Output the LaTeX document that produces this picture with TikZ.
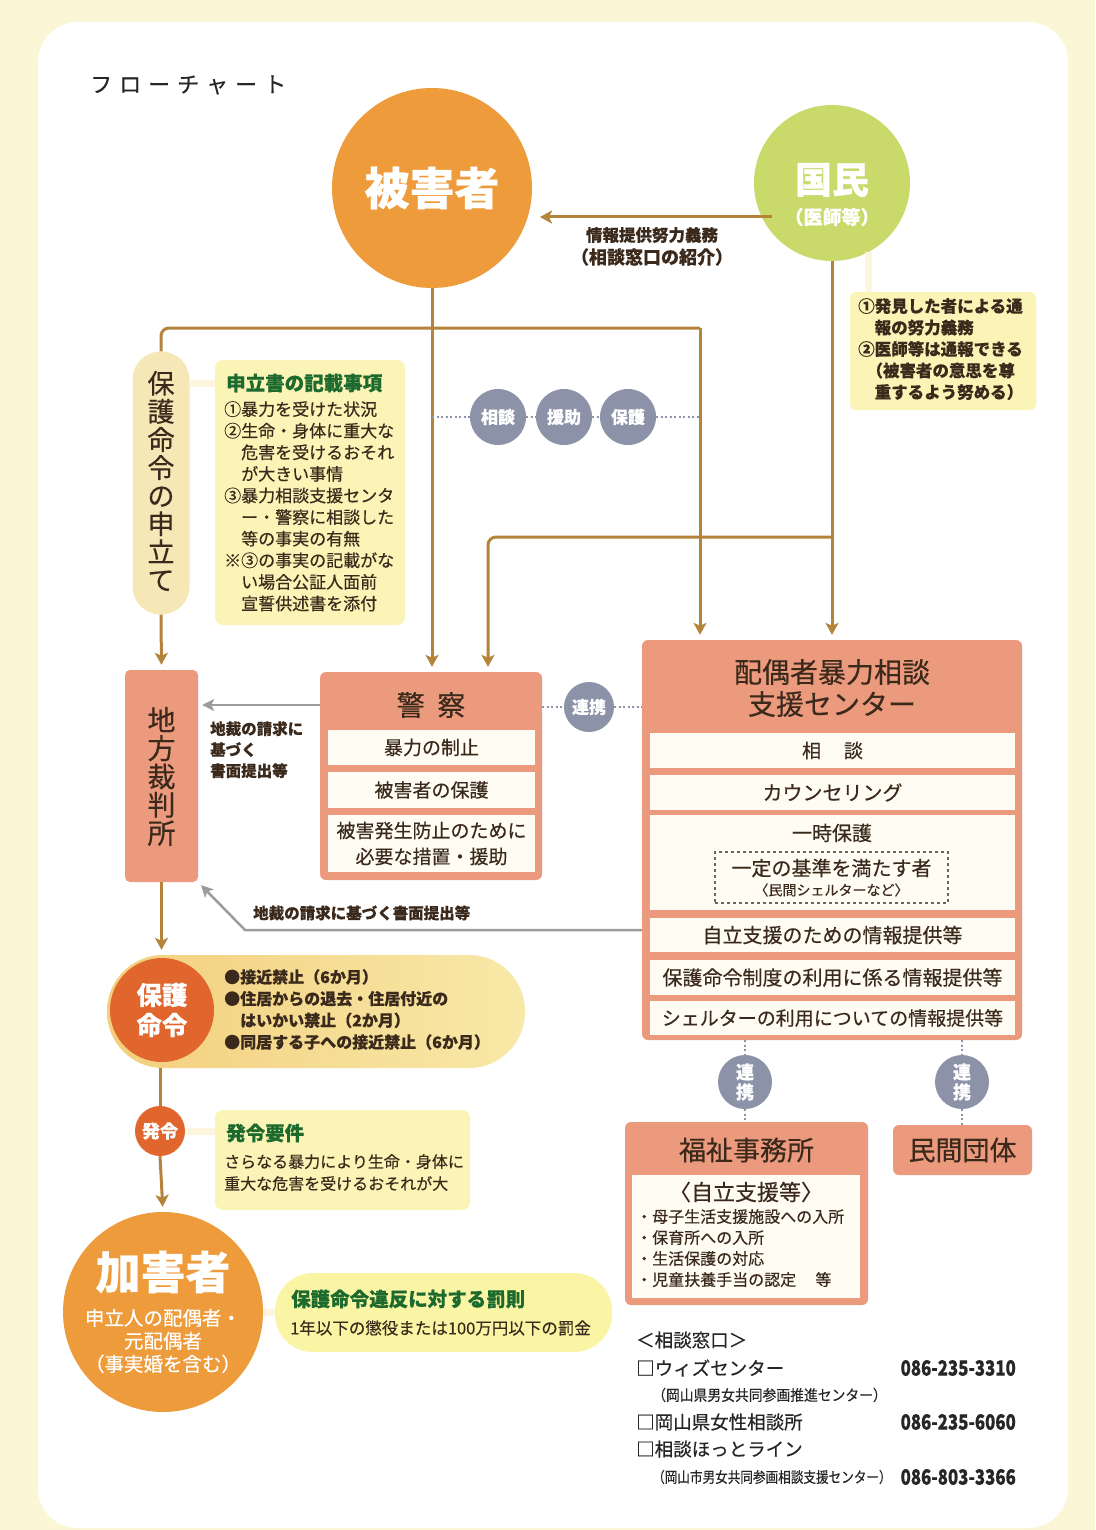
\documentclass[tikz,border=0pt]{standalone}
\usepackage{fontspec}
\usepackage{graphicx}
\setmainfont{Noto Sans CJK JP}[FakeBold=0.4]
\usetikzlibrary{arrows.meta,calc}
\definecolor{bgy}{HTML}{FBF7D6}
\definecolor{lnb}{HTML}{B5843A}
\definecolor{salm}{HTML}{EC9A7D}
\definecolor{roww}{HTML}{FFFCF3}
\definecolor{orng}{HTML}{EE9B3C}
\definecolor{redo}{HTML}{E0662D}
\definecolor{kgreen}{HTML}{C9DA6B}
\definecolor{paley}{HTML}{FAF4B6}
\definecolor{tanp}{HTML}{F6E8B6}
\definecolor{cgray}{HTML}{8C92A7}
\definecolor{dgreen}{HTML}{1D6A2E}
\definecolor{tdark}{HTML}{3B2A1C}
\definecolor{agray}{HTML}{9C9C9C}
\definecolor{hogoL}{HTML}{F3CF7E}
\definecolor{hogoR}{HTML}{F8E9A8}
\newcommand\fsz[2]{\fontsize{#1pt}{#2pt}\selectfont}
\tikzset{
 txt/.style={inner sep=0pt, text=tdark},
 brl/.style={draw=lnb, line width=3pt},
 barr/.style={brl, shorten >=5pt, -{Stealth[width=13pt,length=12pt,inset=3pt]}},
 garr/.style={draw=agray, line width=2.5pt, shorten >=4pt, -{Stealth[width=12pt,length=12pt,inset=3pt]}},
 dotl/.style={draw=cgray, line width=2pt, dash pattern=on 2pt off 2.5pt},
 pale/.style={draw=paley!80!orange!30, line width=7pt},
 sbox/.style={fill=salm, rounded corners=6pt, inner sep=0pt},
 rowbox/.style={fill=roww, inner sep=0pt, text=tdark},
 gcirc/.style={circle, fill=cgray, minimum size=54pt, inner sep=0pt, text=white},
 green/.style={inner sep=0pt, text=dgreen, font=\fsz{19.5}{22}\bfseries},
}
\begin{document}
\begin{tikzpicture}[x=1pt,y=-1pt]
\useasboundingbox (0,0) rectangle (1095,1530);
\fill[bgy] (0,0) rectangle (1095,1530);
\fill[white, rounded corners=40pt] (38,22) rectangle (1068,1528);

% title
\node[txt, anchor=west, text=black!85, font=\fsz{22}{24}] (title) at (90,85) {フ\hspace{7pt}ロ\hspace{7pt}ー\hspace{7pt}チ\hspace{7pt}ャ\hspace{7pt}ー\hspace{7pt}ト};

% victim
\node[circle, fill=orng, minimum size=200pt, inner sep=0pt, text=white, font=\fsz{45}{48}\bfseries] (victim) at (432,188) {被害者};
% kokumin
\node[circle, fill=kgreen, minimum size=156pt, inner sep=0pt] (kokumin) at (832,183) {};
\node[inner sep=0pt, text=white, font=\fsz{37}{40}\bfseries] (kokuminT) at (832,180) {国民};
\node[inner sep=0pt, text=white, font=\fsz{19}{22}\bfseries] (kokuminS) at (832,217) {（医師等）};
\coordinate (infoStart) at (772,217);
\coordinate (infoEnd) at (540,217);
\draw[barr, shorten >=0pt] (infoStart) -- (infoEnd);
\node[txt, font=\fsz{16.5}{18}\bfseries] (infoL1) at (652,235) {情報提供努力義務};
\node[txt, font=\fsz{18}{20}\bfseries] (infoL2) at (652,257) {（相談窓口の紹介）};

% note box
\node[fill=paley, rounded corners=6pt, minimum width=186pt, minimum height=118pt, inner sep=0pt] (note) at (943,351) {};
\draw[pale] (kokumin.-62) -- (kokumin.-62 |- note.north);
\node[txt, anchor=north west, align=left, font=\fsz{16.5}{21.5}\bfseries] (noteT) at (858,298) {①発見した者による通\\\hspace{1em}報の努力義務\\②医師等は通報できる\\\hspace{0.5em}（被害者の意思を尊\\\hspace{1em}重するよう努める）};

% hogo meirei moushitate pill
\node[fill=tanp, rounded corners=28pt, minimum width=57pt, minimum height=263pt, inner sep=0pt] (moushitate) at (161,483) {};
\node[txt, align=center, text=tdark, font=\fsz{27}{28.1}] (moushitateT) at (161,481) {保\\護\\命\\令\\の\\申\\立\\て};
% kisai box
\node[fill=paley, rounded corners=8pt, minimum width=190pt, minimum height=265pt, inner sep=0pt] (kisai) at (310,492.5) {};
\node[green, anchor=west] (kisaiH) at (226,383) {申立書の記載事項};
\draw[pale] (moushitate.east |- kisaiH) -- (kisai.west |- kisaiH);
\node[txt, anchor=north west, align=left, font=\fsz{17}{21.6}] (kisaiT) at (224,401) {①暴力を受けた状況\\②生命・身体に重大な\\\hspace{1em}危害を受けるおそれ\\\hspace{1em}が大きい事情\\③暴力相談支援センタ\\\hspace{1em}ー・警察に相談した\\\hspace{1em}等の事実の有無\\※③の事実の記載がな\\\hspace{1em}い場合公証人面前\\\hspace{1em}宣誓供述書を添付};

% chisai
\node[sbox, rounded corners=5pt, minimum width=73pt, minimum height=212pt] (chisai) at (161.5,776) {};
\node[txt, align=center, font=\fsz{28}{28.3}] (chisaiT) at (161.5,776.5) {地\\方\\裁\\判\\所};

% police
\node[sbox, minimum width=222pt, minimum height=208pt] (police) at (431,776) {};
\node[txt, font=\fsz{28}{30}] (pHead) at (431,705) {警\hspace{0.45em}察};
\node[rowbox, minimum width=207pt, minimum height=35pt, font=\fsz{19}{22}] (p1) at (431.5,747.5) {暴力の制止};
\node[rowbox, minimum width=207pt, minimum height=36pt, font=\fsz{19}{22}] (p2) at (431.5,790) {被害者の保護};
\node[rowbox, minimum width=207pt, minimum height=57pt, align=center, font=\fsz{19}{26}] (p3) at (431.5,843.5) {被害発生防止のために\\必要な措置・援助};

% center
\node[sbox, minimum width=380pt, minimum height=400pt] (center) at (832,840) {};
\node[txt, align=center, font=\fsz{28}{32}] (cHead) at (832,688) {配偶者暴力相談\\支援センター};
\node[rowbox, minimum width=365pt, minimum height=35pt, font=\fsz{19}{22}] (c1) at (832.5,750.5) {相\hspace{1.2em}談};
\node[rowbox, minimum width=365pt, minimum height=35pt, font=\fsz{20}{22}] (c2) at (832.5,792.5) {カウンセリング};
\node[rowbox, minimum width=365pt, minimum height=95pt] (c3) at (832.5,862.5) {};
\node[txt, font=\fsz{20}{22}] (c3T) at (832,833) {一時保護};
\node[draw=black!60, dashed, line width=1.2pt, fill=roww, minimum width=233pt, minimum height=51pt, inner sep=0pt] (cDash) at (831.5,877.5) {};
\node[txt, font=\fsz{20}{22}] (cDash1) at (831.5,868) {一定の基準を満たす者};
\node[txt, font=\fsz{14}{16}] (cDash2) at (831.5,890) {〈民間シェルターなど〉};
\node[rowbox, minimum width=365pt, minimum height=34pt, font=\fsz{20}{22}] (c4) at (832.5,935) {自立支援のための情報提供等};
\node[rowbox, minimum width=365pt, minimum height=35pt, font=\fsz{20}{22}] (c5) at (832.5,977.5) {保護命令制度の利用に係る情報提供等};
\node[rowbox, minimum width=365pt, minimum height=34pt, font=\fsz{19}{22}] (c6) at (832.5,1018) {シェルターの利用についての情報提供等};

% dotted sodan circles
\node[gcirc, minimum size=56pt, font=\fsz{17}{19}\bfseries] (s1) at (498,417) {相談};
\node[gcirc, minimum size=56pt, font=\fsz{17}{19}\bfseries] (s2) at (564,417) {援助};
\node[gcirc, minimum size=56pt, font=\fsz{17}{19}\bfseries] (s3) at (628,417) {保護};

% main brown lines
\coordinate (jR) at (700,328);
\coordinate (br) at (832,537);
\coordinate (brL) at (488,537);
\draw[brl, rounded corners=8pt] (moushitate.north) |- (jR);
\draw[barr, rounded corners=8pt] (jR) -- (jR |- center.north);
\draw[barr] (victim.south) -- (victim.south |- police.north);
\draw[barr] (kokumin.south) -- (kokumin.south |- center.north);
\draw[barr, rounded corners=8pt] (br) -- (brL) -- (brL |- police.north);
\draw[dotl] (victim.south |- s1) -- (s1.west);
\draw[dotl] (s1.east) -- (s2.west);
\draw[dotl] (s2.east) -- (s3.west);
\draw[dotl] (s3.east) -- (jR |- s3);
\draw[barr] (moushitate.south) -- (chisai.north);

% renkei police-center
\node[gcirc, minimum size=50pt, font=\fsz{17}{19}\bfseries] (r1) at (589,707) {連携};
\draw[dotl] (police.east |- r1) -- (r1.west);
\draw[dotl] (r1.east) -- (center.west |- r1);

% gray arrows
\draw[garr] (police.west |- pHead) -- (chisai.east |- pHead);
\node[txt, anchor=north west, align=left, font=\fsz{15.5}{21}\bfseries] (gl1) at (210,721) {地裁の請求に\\基づく\\書面提出等};
\coordinate (gbend) at (245,930);
\draw[garr] (center.west |- gbend) -- (gbend) -- (chisai.south east);
\node[txt, anchor=west, font=\fsz{15.5}{18}\bfseries] (gl2) at (253,913) {地裁の請求に基づく書面提出等};

% hogo meirei
\node[left color=hogoL, right color=hogoR, rounded corners=56pt, minimum width=418pt, minimum height=113pt, inner sep=0pt] (hogo) at (316,1011.5) {};
\node[circle, fill=redo, minimum size=104pt, inner sep=0pt, align=center, text=white, font=\fsz{25.5}{30}\bfseries] (hogoC) at (162,1010) {保護\\命令};
\node[txt, anchor=north west, align=left, font=\fsz{16}{21.7}\bfseries] (hogoT) at (224,969) {●接近禁止（6か月）\\●住居からの退去・住居付近の\\\hspace{1em}はいかい禁止（2か月）\\●同居する子への接近禁止（6か月）};
\draw[barr] (chisai.south) -- (chisai.south |- hogo.north);

% hatsurei
\node[circle, fill=redo, minimum size=50pt, inner sep=0pt, text=white, font=\fsz{18}{20}\bfseries] (hatsurei) at (160,1131) {発令};
\draw[brl] (hatsurei.north |- hogo.south) -- (hatsurei.north);
\node[fill=paley, rounded corners=8pt, minimum width=255pt, minimum height=100pt, inner sep=0pt] (youken) at (342.5,1160) {};
\draw[pale] (hatsurei.east) -- (youken.west |- hatsurei);
\node[green, anchor=west] (youkenH) at (226,1133) {発令要件};
\node[txt, anchor=north west, align=left, font=\fsz{16}{22}] (youkenT) at (224,1154) {さらなる暴力により生命・身体に\\重大な危害を受けるおそれが大};

% kagai
\node[circle, fill=orng, minimum size=200pt, inner sep=0pt] (kagai) at (163,1312) {};
\node[inner sep=0pt, text=white, font=\fsz{45}{48}\bfseries] (kagaiT) at (163,1272) {加害者};
\node[inner sep=0pt, text=white, align=center, font=\fsz{19.5}{23}] (kagaiS) at (163,1341) {申立人の配偶者・\\元配偶者\\（事実婚を含む）};
\draw[barr] (hatsurei.south) -- (kagai.north);

% batsu
\node[fill=paley!90!yellow, rounded corners=38pt, minimum width=337pt, minimum height=79pt, inner sep=0pt] (batsu) at (443.5,1312.5) {};
\draw[pale] (kagai.east) -- (batsu.west);
\node[green, anchor=west] (batsuH) at (291,1299) {保護命令違反に対する罰則};
\node[txt, anchor=west, font=\fsz{16.5}{18}] (batsuT) at (290,1328) {1年以下の懲役または100万円以下の罰金};

% fukushi / minkan
\node[sbox, minimum width=243pt, minimum height=183pt] (fukushi) at (746.5,1213.5) {};
\node[txt, font=\fsz{27}{30}] (fukushiH) at (746.5,1150) {福祉事務所};
\node[rowbox, minimum width=228pt, minimum height=123pt] (fukushiIn) at (746,1236.5) {};
\node[txt, font=\fsz{22}{24}] (fukushiS) at (746,1192) {〈自立支援等〉};
\node[txt, anchor=north west, align=left, font=\fsz{16}{21}] (fukushiT) at (636,1209) {・母子生活支援施設への入所\\・保育所への入所\\・生活保護の対応\\・児童扶養手当の認定\hspace{1.2em}等};
\node[sbox, minimum width=139pt, minimum height=50pt, font=\fsz{27}{30}, text=tdark] (minkan) at (962.5,1150) {民間団体};

\node[gcirc, minimum size=54pt, align=center, font=\fsz{18}{20}\bfseries] (r2) at (745,1082) {連\\携};
\node[gcirc, minimum size=54pt, align=center, font=\fsz{18}{20}\bfseries] (r3) at (962,1082) {連\\携};
\draw[dotl] (r2 |- center.south) -- (r2.north);
\draw[dotl] (r2.south) -- (r2 |- fukushi.north);
\draw[dotl] (r3 |- center.south) -- (r3.north);
\draw[dotl] (r3.south) -- (r3 |- minkan.north);

% contacts
\begin{scope}[every node/.style={inner sep=0pt, text=black!85}]
\node[anchor=west, font=\fsz{18.5}{20}] (ct0) at (636,1340) {＜相談窓口＞};
\node[anchor=west, font=\fsz{18.5}{20}] (ct1) at (636,1368) {□ウィズセンター};
\node[anchor=west, font=\fsz{15}{18}] (ct1b) at (652,1395) {\scalebox{0.92}[1]{（岡山県男女共同参画推進センター）}};
\node[anchor=west, font=\fsz{18.5}{20}] (ct2) at (636,1422) {□岡山県女性相談所};
\node[anchor=west, font=\fsz{18.5}{20}] (ct3) at (636,1449) {□相談ほっとライン};
\node[anchor=west, font=\fsz{15}{18}] (ct3b) at (652,1477) {\scalebox{0.84}[1]{（岡山市男女共同参画相談支援センター）}};
\node[anchor=east, font=\fsz{21}{22}\bfseries] (n1) at (1016,1368) {\scalebox{0.8}[1]{086-235-3310}};
\node[anchor=east, font=\fsz{21}{22}\bfseries] (n2) at (1016,1422) {\scalebox{0.8}[1]{086-235-6060}};
\node[anchor=east, font=\fsz{21}{22}\bfseries] (n3) at (1016,1477) {\scalebox{0.8}[1]{086-803-3366}};
\end{scope}
\end{tikzpicture}
\end{document}
